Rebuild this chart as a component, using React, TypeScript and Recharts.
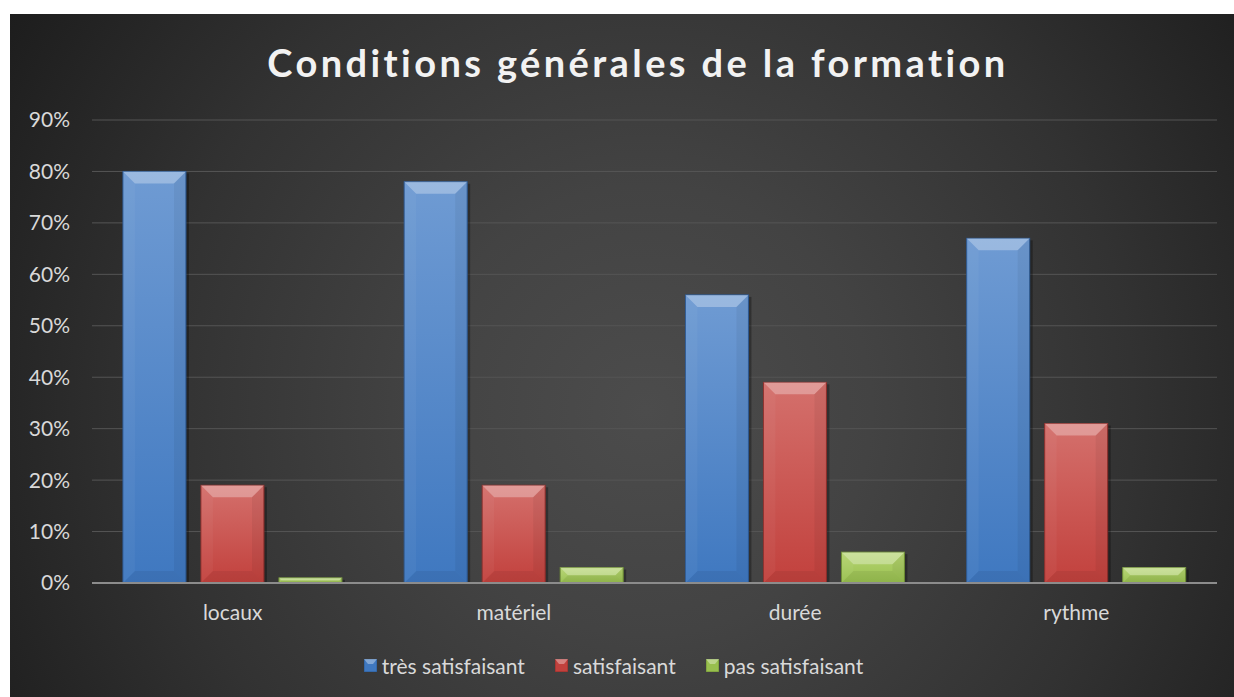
import { Bar, BarChart, CartesianGrid, Legend, XAxis, YAxis } from "recharts";

const categories = ["locaux", "matériel", "durée", "rythme"];
const tresSatisfaisant = [0.8, 0.78, 0.56, 0.67];
const satisfaisant = [0.19, 0.19, 0.39, 0.31];
const pasSatisfaisant = [0.01, 0.03, 0.06, 0.03];
const yTicks = [0, 0.1, 0.2, 0.3, 0.4, 0.5, 0.6, 0.7, 0.8, 0.9];

const series = [
  { key: "tres", name: "très satisfaisant", top: "#6f9bd3", bottom: "#3f78c0", edge: "#2d5a94" },
  { key: "sat", name: "satisfaisant", top: "#d4706c", bottom: "#c2413d", edge: "#8f2e2b" },
  { key: "pas", name: "pas satisfaisant", top: "#b6d572", bottom: "#98bf4e", edge: "#6f8f35" },
];

const data = categories.map((cat, i) => ({
  cat,
  tres: tresSatisfaisant[i],
  sat: satisfaisant[i],
  pas: pasSatisfaisant[i],
}));

const FONT = "Lato, 'Open Sans', sans-serif";

function BevelBar(props: any) {
  const { x, y, width, height, seriesKey } = props;
  if (!height || height <= 0) return null;
  const s = series.find((d) => d.key === seriesKey)!;
  const b = Math.min(12, height / 2, width / 2);
  const gid = `grad-${seriesKey}`;
  return (
    <g>
      <rect x={x + 3} y={y + 2} width={width} height={height - 2} fill="rgba(0,0,0,0.3)" />
      <rect x={x} y={y} width={width} height={height} fill={`url(#${gid})`} stroke={s.edge} strokeWidth={1} />
      <polygon
        points={`${x},${y} ${x + width},${y} ${x + width - b},${y + b} ${x + b},${y + b}`}
        fill="rgba(255,255,255,0.3)"
      />
      <polygon
        points={`${x},${y} ${x + b},${y + b} ${x + b},${y + height - b} ${x},${y + height}`}
        fill="rgba(255,255,255,0.04)"
      />
      <polygon
        points={`${x + width},${y} ${x + width - b},${y + b} ${x + width - b},${y + height - b} ${x + width},${y + height}`}
        fill="rgba(0,0,0,0.05)"
      />
      <polygon
        points={`${x},${y + height} ${x + b},${y + height - b} ${x + width - b},${y + height - b} ${x + width},${y + height}`}
        fill="rgba(0,0,0,0.06)"
      />
    </g>
  );
}

function LegendContent() {
  return (
    <div style={{ display: "flex", justifyContent: "center", alignItems: "center", gap: 30, fontFamily: FONT }}>
      {series.map((s) => (
        <div key={s.key} style={{ display: "flex", alignItems: "center", gap: 5 }}>
          <svg width={13} height={13}>
            <rect x={0} y={0} width={13} height={13} fill={s.bottom} stroke={s.edge} />
            <polygon points="0,0 13,0 9,5 4,5" fill="rgba(255,255,255,0.35)" />
          </svg>
          <span style={{ color: "#d9d9d9", fontSize: 21 }}>{s.name}</span>
        </div>
      ))}
    </div>
  );
}

export default function App() {
  return (
    <div
      style={{
        position: "absolute",
        left: 10,
        top: 14,
        width: 1224,
        height: 683,
        background:
          "radial-gradient(circle farthest-corner at 52% 58%, #4c4c4c 0%, #434343 30%, #323232 65%, #1d1d1d 100%)",
      }}
    >
      <svg width={0} height={0} style={{ position: "absolute" }}>
        <defs>
          {series.map((s) => (
            <linearGradient key={s.key} id={`grad-${s.key}`} x1="0" y1="0" x2="0" y2="1">
              <stop offset="0%" stopColor={s.top} />
              <stop offset="100%" stopColor={s.bottom} />
            </linearGradient>
          ))}
        </defs>
      </svg>
      <div
        style={{
          position: "absolute",
          top: 25,
          left: 16,
          width: "100%",
          textAlign: "center",
          fontFamily: FONT,
          fontWeight: 700,
          fontSize: 38,
          letterSpacing: 3.4,
          color: "#f2f2f2",
          lineHeight: "46px",
        }}
      >
        Conditions générales de la formation
      </div>
      <BarChart
        width={1224}
        height={683}
        data={data}
        margin={{ top: 106, right: 17, left: 0, bottom: 34 }}
        barCategoryGap="11%"
        barGap={15}
      >
        <CartesianGrid vertical={false} stroke="#555555" strokeWidth={1} />
        <XAxis
          dataKey="cat"
          axisLine={{ stroke: "#8c8c8c", strokeWidth: 2 }}
          tickLine={false}
          tickSize={0}
          tickMargin={22}
          height={55}
          tick={{ fill: "#d9d9d9", fontSize: 21, fontFamily: FONT }}
        />
        <YAxis
          domain={[0, 0.9]}
          ticks={yTicks}
          interval={0}
          tickFormatter={(v: number) => `${Math.round(v * 100)}%`}
          axisLine={false}
          tickLine={false}
          tickSize={0}
          tickMargin={22}
          width={82}
          tick={{ fill: "#d9d9d9", fontSize: 21, fontFamily: FONT }}
        />
        <Legend verticalAlign="bottom" content={<LegendContent />} wrapperStyle={{ bottom: 19 }} />
        {series.map((s) => (
          <Bar
            key={s.key}
            dataKey={s.key}
            name={s.name}
            isAnimationActive={false}
            shape={(p: any) => <BevelBar {...p} seriesKey={s.key} />}
          />
        ))}
      </BarChart>
    </div>
  );
}
